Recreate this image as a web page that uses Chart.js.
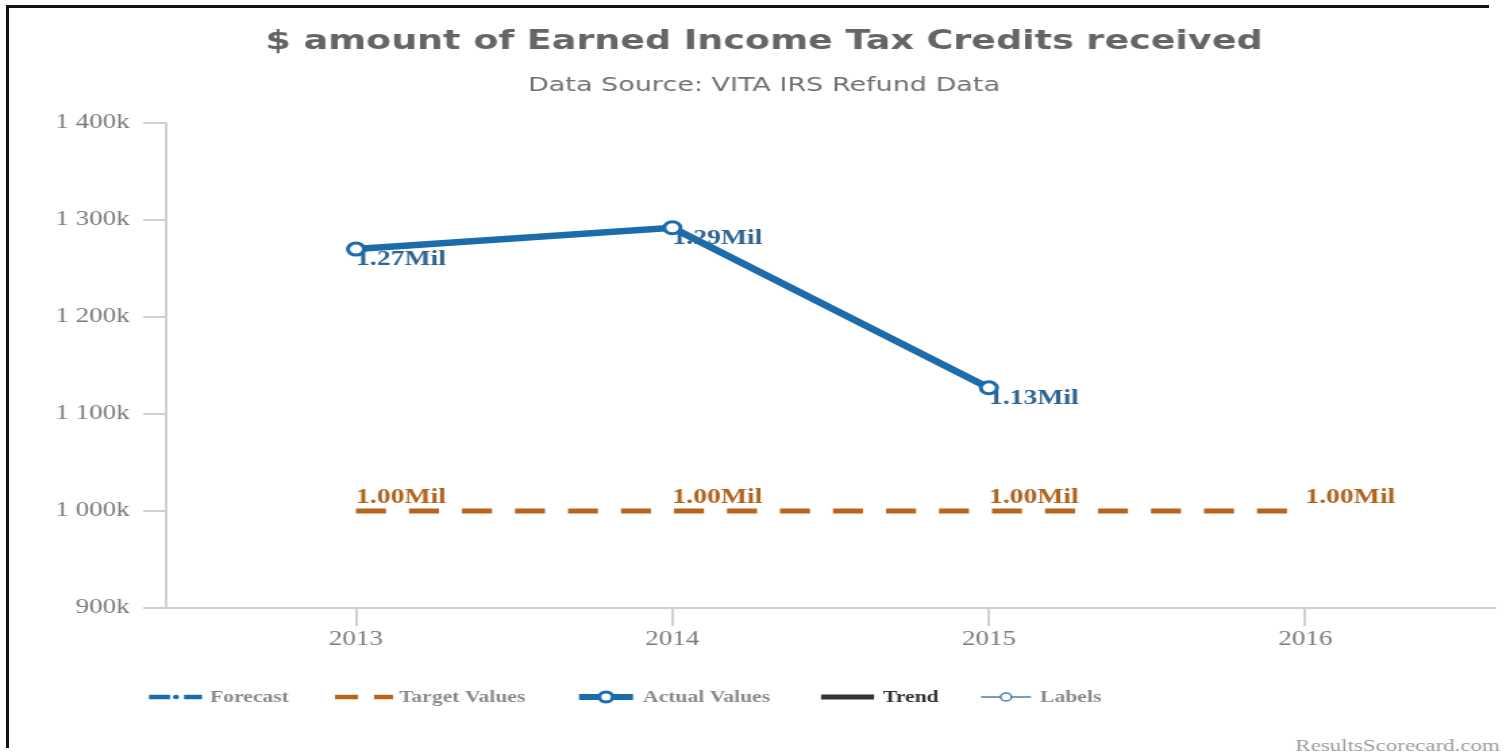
<!DOCTYPE html>
<html><head><meta charset="utf-8">
<script src="https://cdn.jsdelivr.net/npm/chart.js@4/dist/chart.umd.min.js"></script>
<style>
html,body{margin:0;padding:0;background:#fff;overflow:hidden;width:1510px;height:756px}
#wrap{position:absolute;left:0;top:0;width:1510px;height:756px;overflow:hidden}
#c{position:absolute;left:0;top:0;width:1510px;height:756px}
#frame{position:absolute;left:6px;top:5px;width:1480px;height:740px;border-left:3px solid #111;border-top:3px solid #111;pointer-events:none}
</style></head>
<body>
<div id="wrap"><canvas id="c" width="1118" height="756" style="width:1510px;height:756px"></canvas><div id="frame"></div></div>
<script>
// ---- data ----
const years = [2013, 2014, 2015, 2016];
const actualYears = [2013, 2014, 2015];
const actualValues = [1270000, 1292000, 1127000];
const targetValues = [1000000, 1000000, 1000000, 1000000];
const yMin = 900000, yMax = 1400000, yStep = 100000;
const xMin = 2012.4, xMax = 2016.6;
const titleText = '$ amount of Earned Income Tax Credits received';
const subtitleText = 'Data Source: VITA IRS Refund Data';
const legendLabels = ['Forecast', 'Target Values', 'Actual Values', 'Trend', 'Labels'];
const watermark = 'ResultsScorecard.com';

// ---- styles ----
const S = 1510 / 1118; // horizontal stretch of the picture
const BLUE = '#1c6bab', ORANGE = '#b9641c';
const BLUE_TXT = '#2f6491', ORANGE_TXT = '#b0651f';
const AXIS = '#d0d0d0', TICK_TXT = '#7a7a7a';
const SERIF = '"Liberation Serif","Times New Roman",serif';
const SANS = '"DejaVu Sans",Verdana,sans-serif';

function fmtK(v) {
  const k = Math.round(v / 1000);
  const s = k >= 1000 ? Math.floor(k / 1000) + ' ' + String(k % 1000).padStart(3, '0') : String(k);
  return s + 'k';
}
function fmtMil(v) { return (v / 1e6).toFixed(2) + 'Mil'; }

const decor = {
  id: 'decor',
  beforeDatasetsDraw(chart) {
    const ctx = chart.ctx;
    ctx.save();
    ctx.font = 'bold 20.5px ' + SERIF;
    ctx.textAlign = 'left';
    ctx.textBaseline = 'alphabetic';
    chart.getDatasetMeta(0).data.forEach((pt, i) => {
      ctx.fillStyle = BLUE_TXT;
      ctx.fillText(fmtMil(actualValues[i]), pt.x, pt.y + 16);
    });
    chart.getDatasetMeta(1).data.forEach((pt, i) => {
      ctx.fillStyle = ORANGE_TXT;
      ctx.fillText(fmtMil(targetValues[i]), pt.x, pt.y - 8);
    });
    ctx.restore();
  },
  afterDraw(chart) {
    const ctx = chart.ctx;
    ctx.save();
    ctx.textAlign = 'center';
    ctx.textBaseline = 'alphabetic';
    ctx.fillStyle = '#656565';
    ctx.font = 'bold 27px ' + SANS;
    ctx.fillText(titleText, 764 / S, 49);
    ctx.fillStyle = '#707070';
    ctx.font = '20px ' + SANS;
    ctx.fillText(subtitleText, 764 / S, 91);

    // legend
    const y = 697;
    const X = v => v / S;
    function seg(x1, x2, color, w) {
      ctx.beginPath(); ctx.strokeStyle = color; ctx.lineWidth = w; ctx.lineCap = 'butt';
      ctx.moveTo(X(x1), y); ctx.lineTo(X(x2), y); ctx.stroke();
    }
    function circ(cx, r, color, w, fill) {
      ctx.save();
      ctx.beginPath(); ctx.arc(X(cx), y, r, 0, Math.PI * 2);
      ctx.fillStyle = fill; ctx.fill();
      if (w > 0) { ctx.strokeStyle = color; ctx.lineWidth = w; ctx.stroke(); }
      ctx.restore();
    }
    seg(149, 170, BLUE, 4.5); circ(176, 2.3, BLUE, 0, BLUE); seg(184, 202, BLUE, 4.5);
    seg(335, 358, ORANGE, 4.5); seg(374, 393, ORANGE, 4.5);
    seg(579, 633, BLUE, 6); circ(606, 5, BLUE, 3, '#fff');
    seg(821, 874, '#333', 5);
    seg(981, 1031, '#4a7fb0', 1.5); circ(1006, 4, '#4a7fb0', 1.5, '#fff');

    ctx.font = 'bold 16px ' + SERIF;
    ctx.textAlign = 'left';
    ctx.textBaseline = 'middle';
    const tx = [210, 399, 643, 883, 1040];
    legendLabels.forEach((t, i) => {
      ctx.fillStyle = t === 'Trend' ? '#333' : '#8a8a8a';
      ctx.fillText(t, X(tx[i]), y + 1);
    });

    ctx.font = '17px ' + SERIF;
    ctx.fillStyle = '#9a9a9a';
    ctx.textAlign = 'right';
    ctx.textBaseline = 'alphabetic';
    ctx.fillText(watermark, X(1500), 751);
    ctx.restore();
  }
};

new Chart(document.getElementById('c'), {
  type: 'line',
  data: {
    datasets: [
      {
        label: 'Actual Values',
        data: actualYears.map((x, i) => ({ x, y: actualValues[i] })),
        borderColor: BLUE, borderWidth: 6.5,
        pointRadius: 6, pointBorderWidth: 3, pointBackgroundColor: '#fff', pointBorderColor: BLUE,
        tension: 0, fill: false
      },
      {
        label: 'Target Values',
        data: years.map((x, i) => ({ x, y: targetValues[i] })),
        borderColor: ORANGE, borderWidth: 5, borderDash: [30 / S, 23 / S], borderCapStyle: 'butt',
        pointRadius: 0, tension: 0, fill: false
      }
    ]
  },
  options: {
    responsive: false,
    devicePixelRatio: 1,
    animation: false,
    layout: { padding: { top: 123, right: 11, bottom: 98, left: 0 } },
    plugins: { legend: { display: false }, title: { display: false }, tooltip: { enabled: false } },
    scales: {
      x: {
        type: 'linear', min: xMin, max: xMax,
        afterBuildTicks: s => { s.ticks = years.map(v => ({ value: v })); },
        afterFit: s => { s.height = 50; },
        ticks: { callback: v => String(v), font: { family: SERIF, size: 20 }, color: TICK_TXT, padding: 2, maxRotation: 0, autoSkip: false },
        grid: { display: true, drawOnChartArea: false, drawTicks: true, tickLength: 18, color: AXIS, lineWidth: 2 },
        border: { display: true, color: AXIS, width: 2 }
      },
      y: {
        min: yMin, max: yMax,
        afterFit: s => { s.width = 123; },
        ticks: { stepSize: yStep, callback: v => fmtK(v), font: { family: SERIF, size: 20 }, color: TICK_TXT, padding: 10 },
        grid: { display: true, drawOnChartArea: false, drawTicks: true, tickLength: 17, color: AXIS, lineWidth: 2 },
        border: { display: true, color: AXIS, width: 2 }
      }
    }
  },
  plugins: [decor]
});
</script>
</body></html>
